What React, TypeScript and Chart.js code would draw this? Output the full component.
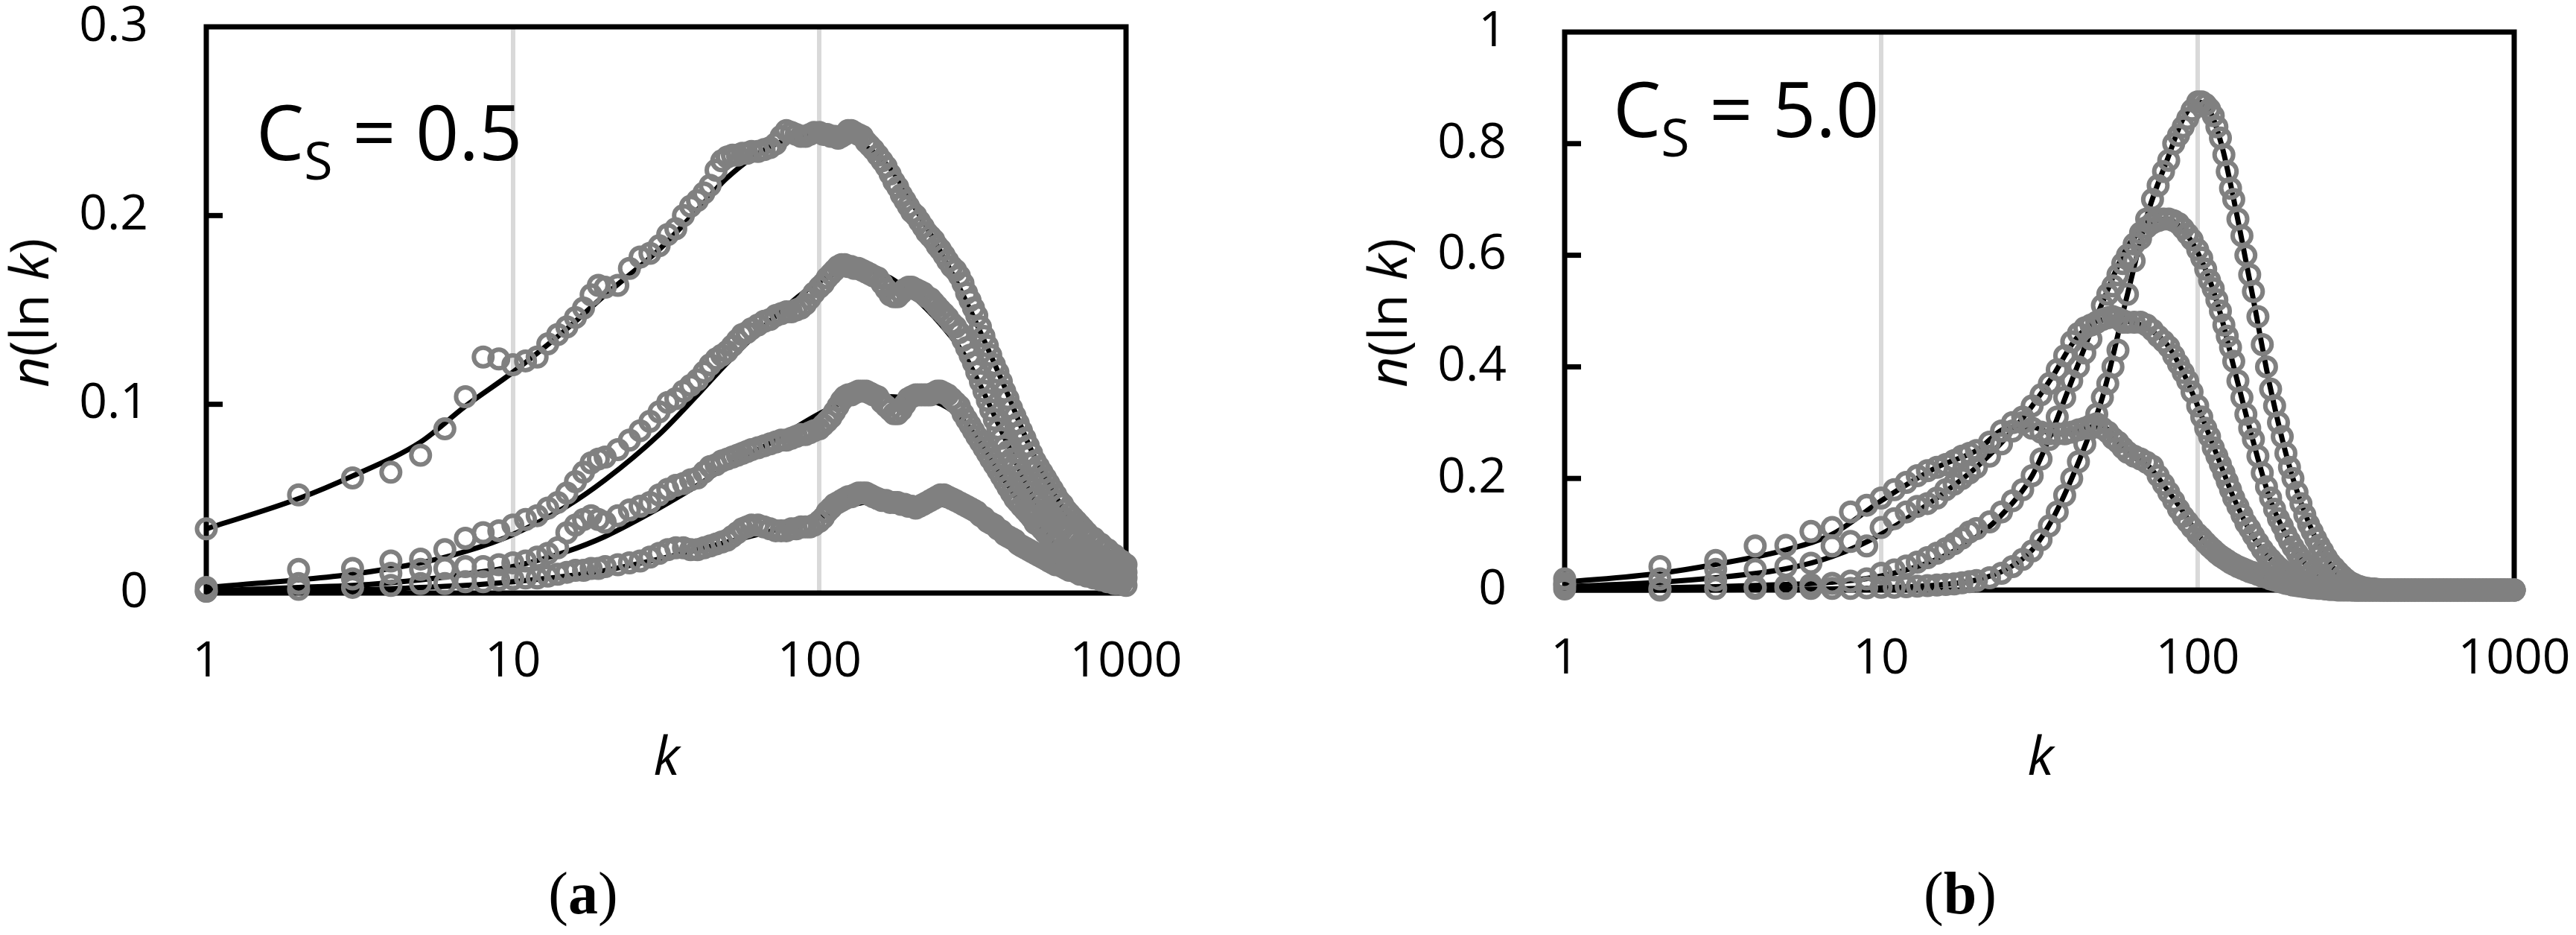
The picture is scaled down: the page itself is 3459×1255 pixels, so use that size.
import { useEffect, useRef } from "react";
import { Chart, registerables } from "chart.js";

Chart.register(...registerables);

// k values (cluster sizes) where the simulated points are plotted
const K = [
  1, 2, 3, 4, 5, 6, 7, 8, 9, 10, 11, 12, 13, 14, 15, 16, 17, 18, 19, 20,
  22, 24, 26, 28, 30, 32, 34, 36, 38, 40, 42, 44, 46, 48, 50,
  52, 54, 56, 58, 60, 63, 66, 69, 72, 75, 78, 81, 84, 87, 90, 93, 96, 100,
  103, 106, 109, 112, 115, 118, 121, 124, 127, 130, 134, 138, 142, 146, 150,
  155, 160, 165, 170, 175, 180, 185, 190, 195, 200,
  206, 212, 218, 224, 230, 236, 242, 248, 255,
  262, 270, 278, 286, 294, 302, 310, 318, 326, 335, 344, 353, 362, 372, 382, 392, 402, 412, 423, 434, 445, 456, 468, 480, 492, 505,
  518, 532, 546, 560, 575, 590, 605, 621, 637, 654, 671, 689, 707, 726, 745, 765, 785, 806, 827, 849, 871, 894, 917, 941, 966, 1000,
];

// panel (a) C_S = 0.5, simulated points
const A1 = [
  0.034, 0.052, 0.061, 0.064, 0.073, 0.087, 0.104, 0.125, 0.124, 0.121, 0.123, 0.125, 0.132, 0.137, 0.141, 0.146, 0.151, 0.158, 0.163, 0.162,
  0.163, 0.172, 0.178, 0.18, 0.184, 0.19, 0.193, 0.2, 0.205, 0.208, 0.212, 0.216, 0.224, 0.229, 0.231,
  0.232, 0.232, 0.233, 0.233, 0.234, 0.234, 0.235, 0.236, 0.238, 0.242, 0.245, 0.244, 0.243, 0.242, 0.242, 0.243, 0.244, 0.244,
  0.243, 0.243, 0.242, 0.242, 0.241, 0.242, 0.243, 0.245, 0.245, 0.244, 0.243, 0.242, 0.239, 0.237, 0.235,
  0.232, 0.229, 0.226, 0.222, 0.218, 0.215, 0.211, 0.208, 0.205, 0.202,
  0.2, 0.197, 0.194, 0.191, 0.189, 0.187, 0.184, 0.182, 0.179,
  0.176, 0.173, 0.171, 0.168, 0.164, 0.159, 0.155, 0.151, 0.147, 0.141, 0.136, 0.131, 0.126, 0.121, 0.117, 0.112, 0.107, 0.103, 0.098, 0.094, 0.09, 0.086, 0.082, 0.078, 0.074, 0.07,
  0.067, 0.064, 0.061, 0.058, 0.055, 0.052, 0.049, 0.047, 0.044, 0.042, 0.04, 0.038, 0.036, 0.034, 0.032, 0.03, 0.029, 0.027, 0.026, 0.024, 0.023, 0.021, 0.02, 0.018, 0.017, 0.015,
];
const A2 = [
  0.003, 0.0125, 0.013, 0.017, 0.018, 0.023, 0.029, 0.032, 0.033, 0.036, 0.039, 0.041, 0.045, 0.048, 0.053, 0.059, 0.064, 0.069, 0.071, 0.072,
  0.076, 0.081, 0.086, 0.091, 0.096, 0.101, 0.103, 0.107, 0.11, 0.113, 0.117, 0.121, 0.124, 0.126, 0.128,
  0.131, 0.134, 0.137, 0.138, 0.14, 0.142, 0.144, 0.145, 0.147, 0.148, 0.149, 0.149, 0.15, 0.151, 0.153, 0.156, 0.159, 0.162,
  0.164, 0.167, 0.169, 0.171, 0.173, 0.174, 0.174, 0.173, 0.173, 0.172, 0.172, 0.171, 0.17, 0.169, 0.168,
  0.167, 0.164, 0.161, 0.158, 0.157, 0.157, 0.159, 0.161, 0.162, 0.162,
  0.161, 0.16, 0.159, 0.157, 0.156, 0.154, 0.152, 0.15, 0.148,
  0.146, 0.143, 0.141, 0.138, 0.134, 0.13, 0.126, 0.122, 0.117, 0.112, 0.107, 0.102, 0.097, 0.092, 0.087, 0.082, 0.078, 0.075, 0.071, 0.068, 0.065, 0.062, 0.059, 0.056, 0.053, 0.05,
  0.048, 0.046, 0.044, 0.042, 0.04, 0.038, 0.036, 0.034, 0.032, 0.031, 0.029, 0.028, 0.026, 0.025, 0.024, 0.022, 0.021, 0.02, 0.019, 0.018, 0.017, 0.016, 0.014, 0.013, 0.012, 0.011,
];
const A3 = [
  0.001, 0.005, 0.0075, 0.0105, 0.0125, 0.013, 0.014, 0.014, 0.015, 0.016, 0.017, 0.019, 0.021, 0.024, 0.032, 0.036, 0.039, 0.041, 0.039, 0.0375,
  0.041, 0.044, 0.046, 0.048, 0.052, 0.055, 0.057, 0.058, 0.06, 0.061, 0.064, 0.067, 0.068, 0.07, 0.071,
  0.072, 0.073, 0.074, 0.075, 0.076, 0.077, 0.078, 0.079, 0.08, 0.081, 0.081, 0.082, 0.083, 0.084, 0.084, 0.085, 0.086, 0.087,
  0.089, 0.091, 0.093, 0.096, 0.099, 0.102, 0.104, 0.105, 0.105, 0.106, 0.107, 0.107, 0.107, 0.106, 0.105,
  0.104, 0.101, 0.099, 0.097, 0.095, 0.095, 0.097, 0.1, 0.103, 0.104,
  0.105, 0.105, 0.105, 0.105, 0.105, 0.106, 0.107, 0.107, 0.106,
  0.105, 0.103, 0.101, 0.099, 0.095, 0.092, 0.089, 0.086, 0.083, 0.08, 0.077, 0.074, 0.071, 0.068, 0.065, 0.062, 0.059, 0.056, 0.053, 0.05, 0.048, 0.046, 0.044, 0.042, 0.04, 0.037,
  0.036, 0.034, 0.032, 0.03, 0.029, 0.027, 0.026, 0.024, 0.023, 0.022, 0.021, 0.02, 0.019, 0.018, 0.017, 0.016, 0.015, 0.014, 0.013, 0.012, 0.011, 0.01, 0.01, 0.009, 0.009, 0.008,
];
const A4 = [
  0.001, 0.002, 0.003, 0.004, 0.005, 0.005, 0.006, 0.006, 0.007, 0.0075, 0.008, 0.008, 0.009, 0.01, 0.011, 0.012, 0.012, 0.013, 0.013, 0.014,
  0.015, 0.016, 0.017, 0.019, 0.021, 0.023, 0.024, 0.024, 0.023, 0.023, 0.024, 0.025, 0.026, 0.027, 0.028,
  0.03, 0.032, 0.034, 0.035, 0.036, 0.036, 0.035, 0.034, 0.033, 0.033, 0.033, 0.034, 0.034, 0.035, 0.035, 0.035, 0.036, 0.038,
  0.04, 0.043, 0.045, 0.047, 0.048, 0.049, 0.05, 0.051, 0.051, 0.052, 0.053, 0.053, 0.053, 0.052, 0.051,
  0.05, 0.049, 0.049, 0.048, 0.048, 0.048, 0.047, 0.047, 0.046, 0.046,
  0.045, 0.046, 0.047, 0.048, 0.049, 0.05, 0.051, 0.052, 0.052,
  0.051, 0.05, 0.049, 0.048, 0.047, 0.046, 0.045, 0.044, 0.043, 0.041, 0.04, 0.038, 0.037, 0.036, 0.034, 0.033, 0.031, 0.03, 0.029, 0.028, 0.026, 0.025, 0.024, 0.023, 0.022, 0.021,
  0.02, 0.019, 0.018, 0.017, 0.016, 0.015, 0.015, 0.014, 0.013, 0.012, 0.012, 0.011, 0.01, 0.01, 0.009, 0.009, 0.008, 0.008, 0.007, 0.007, 0.006, 0.006, 0.005, 0.005, 0.005, 0.004,
];

// panel (b) C_S = 5.0, simulated points
const B1 = [
  0.002, 0, 0.003, 0.003, 0.003, 0.003, 0.003, 0.003, 0.004, 0.005, 0.005, 0.006, 0.007, 0.008, 0.009, 0.01, 0.011, 0.013, 0.015, 0.017,
  0.022, 0.03, 0.042, 0.055, 0.07, 0.09, 0.115, 0.14, 0.17, 0.2, 0.23, 0.262, 0.29, 0.315, 0.345,
  0.37, 0.4, 0.43, 0.48, 0.53, 0.59, 0.63, 0.665, 0.7, 0.725, 0.75, 0.77, 0.8, 0.815, 0.83, 0.845, 0.86, 0.875,
  0.875, 0.87, 0.862, 0.85, 0.83, 0.81, 0.78, 0.75, 0.72, 0.7, 0.665, 0.635, 0.6, 0.565, 0.535,
  0.49, 0.44, 0.4, 0.36, 0.33, 0.3, 0.275, 0.245, 0.22, 0.2,
  0.175, 0.155, 0.135, 0.118, 0.105, 0.092, 0.08, 0.07, 0.058,
  0.048, 0.04, 0.032, 0.025, 0.019, 0.014, 0.011, 0.008, 0.006, 0.004, 0.003, 0.002, 0.002, 0.001, 0, 0, 0, 0, 0, 0, 0, 0, 0, 0, 0, 0,
  0, 0, 0, 0, 0, 0, 0, 0, 0, 0, 0, 0, 0, 0, 0, 0, 0, 0, 0, 0, 0, 0, 0, 0, 0, 0,
];
const B2 = [
  0.008, 0.003, 0.018, 0.006, 0.008, 0.01, 0.012, 0.016, 0.02, 0.03, 0.036, 0.043, 0.05, 0.058, 0.066, 0.074, 0.083, 0.093, 0.104, 0.11,
  0.122, 0.14, 0.16, 0.18, 0.205, 0.235, 0.27, 0.31, 0.345, 0.375, 0.4, 0.425, 0.45, 0.48, 0.51,
  0.53, 0.545, 0.565, 0.585, 0.6, 0.62, 0.64, 0.65, 0.658, 0.662, 0.665, 0.665, 0.662, 0.657, 0.648, 0.638, 0.628, 0.61,
  0.595, 0.575, 0.555, 0.54, 0.52, 0.5, 0.475, 0.455, 0.435, 0.41, 0.375, 0.345, 0.315, 0.29, 0.27,
  0.24, 0.21, 0.185, 0.165, 0.145, 0.128, 0.115, 0.1, 0.088, 0.077,
  0.066, 0.056, 0.047, 0.04, 0.033, 0.027, 0.022, 0.018, 0.013,
  0.01, 0.007, 0.005, 0.004, 0.003, 0.002, 0.001, 0, 0, 0, 0, 0, 0, 0, 0, 0, 0, 0, 0, 0, 0, 0, 0, 0, 0, 0,
  0, 0, 0, 0, 0, 0, 0, 0, 0, 0, 0, 0, 0, 0, 0, 0, 0, 0, 0, 0, 0, 0, 0, 0, 0, 0,
];
const B3 = [
  0.012, 0.02, 0.037, 0.037, 0.042, 0.048, 0.079, 0.087, 0.079, 0.112, 0.128, 0.14, 0.15, 0.155, 0.165, 0.18, 0.19, 0.2, 0.21, 0.22,
  0.24, 0.262, 0.285, 0.31, 0.33, 0.35, 0.37, 0.395, 0.42, 0.445, 0.46, 0.47, 0.475, 0.48, 0.485,
  0.488, 0.49, 0.487, 0.483, 0.48, 0.48, 0.48, 0.475, 0.466, 0.455, 0.446, 0.436, 0.42, 0.405, 0.39, 0.375, 0.355, 0.33,
  0.31, 0.29, 0.275, 0.255, 0.24, 0.225, 0.21, 0.195, 0.18, 0.165, 0.15, 0.135, 0.12, 0.11, 0.098,
  0.085, 0.073, 0.063, 0.055, 0.047, 0.04, 0.035, 0.03, 0.025, 0.021,
  0.017, 0.014, 0.011, 0.009, 0.007, 0.005, 0.004, 0.003, 0.002,
  0.001, 0.001, 0, 0, 0, 0, 0, 0, 0, 0, 0, 0, 0, 0, 0, 0, 0, 0, 0, 0, 0, 0, 0, 0, 0, 0,
  0, 0, 0, 0, 0, 0, 0, 0, 0, 0, 0, 0, 0, 0, 0, 0, 0, 0, 0, 0, 0, 0, 0, 0, 0, 0,
];
const B4 = [
  0.02, 0.042, 0.053, 0.079, 0.08, 0.105, 0.112, 0.14, 0.152, 0.165, 0.18, 0.193, 0.205, 0.214, 0.22, 0.225, 0.232, 0.24, 0.245, 0.25,
  0.265, 0.285, 0.3, 0.3, 0.29, 0.283, 0.28, 0.28, 0.28, 0.283, 0.287, 0.29, 0.295, 0.298, 0.29,
  0.283, 0.272, 0.265, 0.255, 0.247, 0.24, 0.235, 0.229, 0.222, 0.205, 0.19, 0.175, 0.16, 0.145, 0.132, 0.122, 0.112, 0.1,
  0.093, 0.085, 0.078, 0.072, 0.066, 0.061, 0.057, 0.053, 0.049, 0.046, 0.042, 0.039, 0.036, 0.033, 0.031,
  0.028, 0.025, 0.023, 0.02, 0.018, 0.016, 0.014, 0.012, 0.011, 0.009,
  0.008, 0.007, 0.006, 0.005, 0.004, 0.004, 0.003, 0.003, 0.002,
  0.002, 0.002, 0.001, 0.001, 0.001, 0.001, 0, 0, 0, 0, 0, 0, 0, 0, 0, 0, 0, 0, 0, 0, 0, 0, 0, 0, 0, 0,
  0, 0, 0, 0, 0, 0, 0, 0, 0, 0, 0, 0, 0, 0, 0, 0, 0, 0, 0, 0, 0, 0, 0, 0, 0, 0,
];

// model curves (black lines)
const FIT_K_A = [1, 2, 3, 5, 7, 10, 15, 20, 30, 40, 50, 70, 100, 130, 170, 200, 250, 300, 400, 500, 700, 1000];
const FIT_A1 = [0.034, 0.05, 0.062, 0.08, 0.099, 0.117, 0.14, 0.158, 0.182, 0.203, 0.22, 0.237, 0.243, 0.24, 0.225, 0.207, 0.18, 0.155, 0.11, 0.073, 0.033, 0.012];
const FIT_A2 = [0.003, 0.007, 0.01, 0.016, 0.022, 0.031, 0.046, 0.06, 0.084, 0.105, 0.122, 0.145, 0.165, 0.172, 0.167, 0.158, 0.142, 0.125, 0.083, 0.05, 0.02, 0.007];
const FIT_A3 = [0.001, 0.003, 0.004, 0.007, 0.01, 0.014, 0.022, 0.03, 0.045, 0.057, 0.067, 0.08, 0.095, 0.103, 0.104, 0.103, 0.1, 0.09, 0.06, 0.038, 0.016, 0.005];
const FIT_A4 = [0.0005, 0.001, 0.0015, 0.003, 0.004, 0.006, 0.009, 0.012, 0.018, 0.023, 0.027, 0.033, 0.04, 0.047, 0.049, 0.048, 0.047, 0.043, 0.03, 0.02, 0.009, 0.003];

const FIT_K_B = [1, 2, 3, 5, 7, 10, 15, 20, 25, 30, 35, 40, 45, 50, 60, 70, 80, 90, 100, 110, 120, 130, 150, 170, 200, 250, 300, 400, 1000];
const FIT_B1 = [0, 0, 0.0005, 0.001, 0.002, 0.004, 0.009, 0.018, 0.038, 0.072, 0.13, 0.2, 0.272, 0.345, 0.53, 0.68, 0.77, 0.845, 0.875, 0.855, 0.79, 0.7, 0.52, 0.36, 0.2, 0.065, 0.015, 0.001, 0];
const FIT_B2 = [0.002, 0.004, 0.006, 0.01, 0.014, 0.025, 0.055, 0.095, 0.145, 0.205, 0.29, 0.375, 0.45, 0.515, 0.615, 0.655, 0.665, 0.645, 0.605, 0.55, 0.48, 0.4, 0.265, 0.16, 0.078, 0.015, 0.003, 0, 0];
const FIT_B3 = [0.006, 0.014, 0.022, 0.038, 0.06, 0.1, 0.165, 0.22, 0.275, 0.33, 0.385, 0.44, 0.472, 0.484, 0.482, 0.468, 0.44, 0.39, 0.33, 0.27, 0.215, 0.165, 0.095, 0.055, 0.02, 0.004, 0.001, 0, 0];
const FIT_B4 = [0.014, 0.03, 0.046, 0.072, 0.1, 0.16, 0.22, 0.25, 0.29, 0.292, 0.28, 0.282, 0.292, 0.292, 0.245, 0.222, 0.18, 0.14, 0.1, 0.075, 0.058, 0.044, 0.028, 0.018, 0.009, 0.003, 0.001, 0, 0];

const X_TICKS = [1, 10, 100, 1000];
const X_GRID = [10, 100];
const Y_TICKS_A = [0, 0.1, 0.2, 0.3];
const Y_TICKS_B = [0, 0.2, 0.4, 0.6, 0.8, 1];

const SANS = "'Open Sans', 'DejaVu Sans', sans-serif";
const SERIF = "'Liberation Serif', 'DejaVu Serif', serif";
const PAGE_H = 1255;
const X_BOX = 140;

const pts = (xs: number[], ys: number[]) => xs.map((x, i) => ({ x, y: ys[i] }));

// plot frame and the short inward tick marks on the value axis
const framePlugin = {
  id: "frame",
  beforeDatasetsDraw(chart: any) {
    const { ctx, chartArea: a } = chart;
    const y = chart.scales.y;
    ctx.save();
    ctx.strokeStyle = "#000";
    ctx.lineWidth = 7;
    ctx.strokeRect(a.left, a.top, a.right - a.left, a.bottom - a.top);
    y.ticks.forEach((t: any) => {
      if (t.value === y.min || t.value === y.max) return;
      const py = y.getPixelForValue(t.value);
      ctx.beginPath();
      ctx.moveTo(a.left, py);
      ctx.lineTo(a.left + 22, py);
      ctx.stroke();
    });
    ctx.restore();
  },
};

type PanelProps = {
  points: number[][];
  fitK: number[];
  fits: number[][];
  yTicks: number[];
  canvasLeft: number;
  canvasWidth: number;
  area: { left: number; right: number; top: number; bottom: number };
};

const Panel = ({ points, fitK, fits, yTicks, canvasLeft, canvasWidth, area }: PanelProps) => {
  const chartRef = useRef<HTMLCanvasElement>(null);
  const chartInstanceRef = useRef<Chart>();

  useEffect(() => {
    if (!chartRef.current) return;

    const markers = points.map((ys) => ({
      data: pts(K, ys),
      showLine: false,
      pointRadius: 12.5,
      pointHoverRadius: 12.5,
      pointBorderWidth: 6,
      pointBorderColor: "#808080",
      pointBackgroundColor: "rgba(0,0,0,0)",
      clip: false,
      order: 0,
    }));
    const lines = fits.map((ys) => ({
      data: pts(fitK, ys),
      showLine: true,
      borderColor: "#000",
      borderWidth: 7,
      pointRadius: 0,
      pointHoverRadius: 0,
      cubicInterpolationMode: "monotone",
      fill: false,
      clip: false,
      order: 1,
    }));

    if (chartInstanceRef.current) chartInstanceRef.current.destroy();

    chartInstanceRef.current = new Chart(chartRef.current, {
      type: "scatter",
      data: { datasets: [...markers, ...lines] as any },
      options: {
        animation: false,
        responsive: false,
        maintainAspectRatio: false,
        events: [],
        layout: {
          padding: {
            left: 0,
            top: area.top,
            right: canvasWidth - (area.right - canvasLeft),
            bottom: PAGE_H - area.bottom - X_BOX,
          },
        },
        plugins: { legend: { display: false }, tooltip: { enabled: false } },
        scales: {
          x: {
            type: "logarithmic",
            min: 1,
            max: 1000,
            afterBuildTicks: (s: any) => {
              s.ticks = X_TICKS.map((v) => ({ value: v }));
            },
            afterFit: (s: any) => {
              s.height = X_BOX;
              s.paddingLeft = 0;
              s.paddingRight = 0;
            },
            ticks: {
              autoSkip: false,
              maxRotation: 0,
              padding: 54,
              color: "#000",
              font: { family: SANS, size: 66 },
              callback: (v: any) => String(v),
            },
            grid: {
              drawTicks: false,
              lineWidth: 6,
              color: (c: any) =>
                c.tick && X_GRID.includes(c.tick.value) ? "#d9d9d9" : "rgba(0,0,0,0)",
            },
            border: { display: false },
          },
          y: {
            min: yTicks[0],
            max: yTicks[yTicks.length - 1],
            afterBuildTicks: (s: any) => {
              s.ticks = yTicks.map((v) => ({ value: v }));
            },
            afterFit: (s: any) => {
              s.width = area.left - canvasLeft;
              s.paddingTop = 0;
              s.paddingBottom = 0;
            },
            ticks: {
              padding: 70,
              color: "#000",
              font: { family: SANS, size: 66 },
              callback: (v: any) => String(v),
            },
            grid: { display: false },
            border: { display: false },
          },
        },
      },
      plugins: [framePlugin],
    });

    return () => {
      if (chartInstanceRef.current) {
        chartInstanceRef.current.destroy();
        chartInstanceRef.current = undefined;
      }
    };
  }, []);

  return (
    <canvas
      ref={chartRef}
      width={canvasWidth}
      height={PAGE_H}
      style={{ position: "absolute", left: canvasLeft, top: 0, width: canvasWidth, height: PAGE_H }}
    />
  );
};

const abs = (extra: any) => ({ position: "absolute" as const, whiteSpace: "nowrap" as const, color: "#000", ...extra });

const CsLabel = ({ left, top, value }: { left: number; top: number; value: string }) => (
  <div style={abs({ left, top, fontFamily: SANS, fontSize: 102, lineHeight: "102px" })}>
    C<span style={{ fontSize: 70, position: "relative", top: 26 }}>S</span> = {value}
  </div>
);

const YTitle = ({ x }: { x: number }) => (
  <div
    style={abs({
      left: x,
      top: 420,
      transform: "translate(-50%, -50%) rotate(-90deg)",
      fontFamily: SANS,
      fontSize: 72,
      lineHeight: "72px",
    })}
  >
    <i>n</i>(ln <i>k</i>)
  </div>
);

const XTitle = ({ x }: { x: number }) => (
  <div
    style={abs({
      left: x,
      top: 976,
      transform: "translateX(-50%)",
      fontFamily: SANS,
      fontSize: 72,
      lineHeight: "72px",
      fontStyle: "italic",
    })}
  >
    k
  </div>
);

const SubLabel = ({ x, letter }: { x: number; letter: string }) => (
  <div
    style={abs({
      left: x,
      top: 1159,
      transform: "translateX(-50%)",
      fontFamily: SERIF,
      fontSize: 80,
      lineHeight: "80px",
    })}
  >
    (<b>{letter}</b>)
  </div>
);

const App = () => {
  return (
    <div
      style={{
        position: "fixed",
        left: 0,
        top: 0,
        width: 3459,
        height: PAGE_H,
        background: "#fff",
        overflow: "hidden",
      }}
    >
      <Panel
        points={[A1, A2, A3, A4]}
        fitK={FIT_K_A}
        fits={[FIT_A1, FIT_A2, FIT_A3, FIT_A4]}
        yTicks={Y_TICKS_A}
        canvasLeft={0}
        canvasWidth={1729}
        area={{ left: 277, right: 1512, top: 36, bottom: 796 }}
      />
      <Panel
        points={[B1, B2, B3, B4]}
        fitK={FIT_K_B}
        fits={[FIT_B1, FIT_B2, FIT_B3, FIT_B4]}
        yTicks={Y_TICKS_B}
        canvasLeft={1729}
        canvasWidth={1730}
        area={{ left: 2101, right: 3376, top: 43, bottom: 792 }}
      />
      <CsLabel left={344} top={125} value="0.5" />
      <CsLabel left={2166} top={94} value="5.0" />
      <YTitle x={37} />
      <YTitle x={1861} />
      <XTitle x={895} />
      <XTitle x={2740} />
      <SubLabel x={783} letter="a" />
      <SubLabel x={2632} letter="b" />
    </div>
  );
};

export default App;
